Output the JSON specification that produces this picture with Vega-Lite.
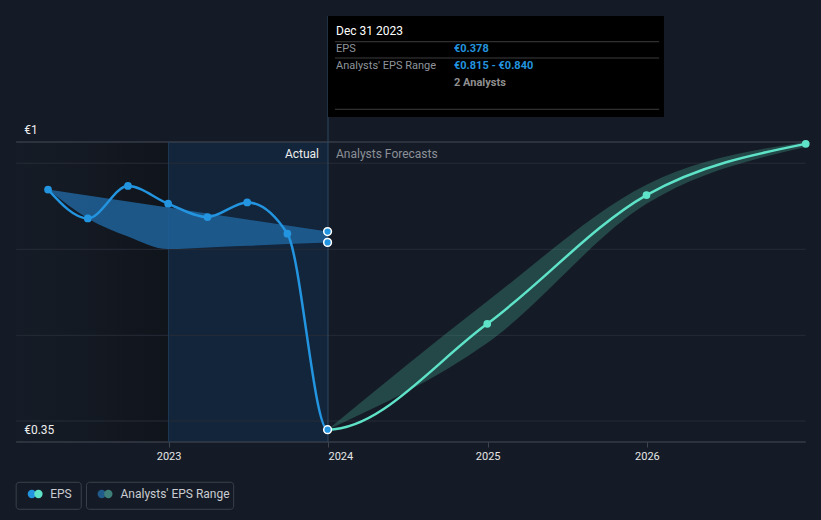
{
 "$schema": "https://vega.github.io/schema/vega-lite/v6.json",
 "padding": 0, "autosize": {"type": "pad"},
 "background": "#151b26",
 "spacing": 0, "bounds": "flush",
 "config": {"view": {"stroke": null}, "font": "Roboto", "text": {"font": "Roboto"}, "concat": {"spacing": 0}},
 "resolve": {"scale": {"x": "independent", "y": "independent"}},
 "datasets": {
  "eps": [{"date":"2022-03-31","eps":0.897,"kind":"actual"},{"date":"2022-06-30","eps":0.8345,"kind":"actual"},{"date":"2022-09-30","eps":0.9047,"kind":"actual"},{"date":"2022-12-31","eps":0.8663,"kind":"actual"},{"date":"2023-03-31","eps":0.8375,"kind":"actual"},{"date":"2023-06-30","eps":0.8691,"kind":"actual"},{"date":"2023-09-30","eps":0.8013,"kind":"actual"},{"date":"2023-12-31","eps":0.3767,"kind":"actual"},{"date":"2024-12-31","eps":0.606,"kind":"forecast"},{"date":"2025-12-31","eps":0.885,"kind":"forecast"},{"date":"2026-12-31","eps":0.996,"kind":"forecast"}],
  "pastband": [{"date":"2022-03-31","lo":0.897,"hi":0.897},{"date":"2022-06-30","lo":0.8345,"hi":0.884},{"date":"2022-09-30","lo":0.7955,"hi":0.871},{"date":"2022-12-31","lo":0.768,"hi":0.858},{"date":"2023-03-31","lo":0.7715,"hi":0.845},{"date":"2023-06-30","lo":0.775,"hi":0.832},{"date":"2023-09-30","lo":0.779,"hi":0.819},{"date":"2023-12-31","lo":0.7825,"hi":0.806}],
  "fcband": [{"date":"2023-12-31","lo":0.3767,"hi":0.3767},{"date":"2024-12-31","lo":0.5645,"hi":0.655},{"date":"2025-12-31","lo":0.866,"hi":0.9075},{"date":"2026-12-31","lo":0.989,"hi":1.0}],
  "latest": [{"date":"2023-12-31","eps":0.3767},{"date":"2023-12-31","eps":0.806},{"date":"2023-12-31","eps":0.7825}],
  "grid": [{"g":0.3955},{"g":0.5812},{"g":0.7675},{"g":0.954}],
  "frame": [{"g":0.35},{"g":1.0}]
 },
 "hconcat": [
  {
   "width": 328, "height": 520,
   "data": {"values": [{}]},
   "layer": [
    {"mark": {"type": "rect", "fill": {"gradient": "linear", "x1": 0, "x2": 1, "y1": 0, "y2": 0, "stops": [{"offset": 0, "color": "#161c27"}, {"offset": 1, "color": "#10151c"}]}},
     "encoding": {
      "x": {"datum": {"year":2022,"month":1,"date":17,"utc":true}, "type": "temporal",
            "scale": {"type": "utc", "domain": [{"year":2021,"month":12,"date":11,"utc":true},{"year":2024,"month":1,"date":1,"utc":true}]},
            "axis": {"values": [{"year":2023,"month":1,"date":1,"utc":true}],
                     "format": "%Y", "title": null, "grid": false, "domain": false, "offset": -78, "tickSize": 5, "tickColor": "#3e444e", "labelColor": "#e6e6e6", "labelFontSize": 11, "labelPadding": 3, "labelFont": "Roboto"}},
      "x2": {"datum": {"year":2023,"month":1,"date":1,"utc":true}},
      "y": {"datum": 0.35, "type": "quantitative", "scale": {"domain": [0.181, 1.3077], "nice": false, "zero": false}, "axis": null},
      "y2": {"datum": 1.0}
     }},
    {"mark": {"type": "rect", "fill": "#13253a"},
     "encoding": {
      "x": {"datum": {"year":2023,"month":1,"date":1,"utc":true}, "type": "temporal"},
      "x2": {"datum": {"year":2024,"month":1,"date":1,"utc":true}},
      "y": {"datum": 0.35, "type": "quantitative"},
      "y2": {"datum": 1.0}
     }},
    {"data": {"name": "grid"}, "mark": {"type": "rule", "color": "#262c36", "strokeWidth": 1},
     "encoding": {
      "y": {"field": "g", "type": "quantitative"},
      "x": {"datum": {"year":2022,"month":1,"date":17,"utc":true}, "type": "temporal"},
      "x2": {"datum": {"year":2024,"month":1,"date":1,"utc":true}}
     }},
    {"data": {"name": "frame"}, "mark": {"type": "rule", "color": "#474d57", "strokeWidth": 1},
     "encoding": {
      "y": {"field": "g", "type": "quantitative"},
      "x": {"datum": {"year":2022,"month":1,"date":17,"utc":true}, "type": "temporal"},
      "x2": {"datum": {"year":2024,"month":1,"date":1,"utc":true}}
     }},
    {"mark": {"type": "rule", "color": "#1d3a55", "strokeWidth": 1},
     "encoding": {
      "x": {"datum": {"year":2023,"month":1,"date":1,"utc":true}, "type": "temporal"},
      "y": {"datum": 0.35, "type": "quantitative"},
      "y2": {"datum": 1.0}
     }},
    {"data": {"name": "pastband"}, "mark": {"type": "area", "interpolate": "monotone", "color": "#1f5e93", "opacity": 0.9},
     "encoding": {
      "x": {"field": "date", "type": "temporal"},
      "y": {"field": "lo", "type": "quantitative"},
      "y2": {"field": "hi"}
     }},
    {"data": {"name": "eps"}, "mark": {"type": "line", "interpolate": "monotone", "color": "#2394df", "strokeWidth": 2.5, "clip": true},
     "encoding": {
      "x": {"field": "date", "type": "temporal"},
      "y": {"field": "eps", "type": "quantitative"}
     }},
    {"data": {"name": "eps"}, "transform": [{"filter": "datum.kind == 'actual' && datum.eps > 0.5"}],
     "mark": {"type": "point", "filled": true, "size": 60, "color": "#2394df", "opacity": 1},
     "encoding": {
      "x": {"field": "date", "type": "temporal"},
      "y": {"field": "eps", "type": "quantitative"}
     }},
    {"mark": {"type": "text", "text": "Actual", "align": "right", "baseline": "middle", "dx": -9, "dy": 12, "fontSize": 12, "color": "#eeeeee"},
     "encoding": {
      "x": {"datum": {"year":2024,"month":1,"date":1,"utc":true}, "type": "temporal"},
      "y": {"datum": 1.0, "type": "quantitative"}
     }},
    {"mark": {"type": "text", "text": "€1", "align": "left", "baseline": "middle", "dx": 8, "dy": -12, "fontSize": 12, "color": "#eeeeee"},
     "encoding": {
      "x": {"datum": {"year":2022,"month":1,"date":17,"utc":true}, "type": "temporal"},
      "y": {"datum": 1.0, "type": "quantitative"}
     }},
    {"mark": {"type": "text", "text": "€0.35", "align": "left", "baseline": "middle", "dx": 8, "dy": -12, "fontSize": 12, "color": "#eeeeee"},
     "encoding": {
      "x": {"datum": {"year":2022,"month":1,"date":17,"utc":true}, "type": "temporal"},
      "y": {"datum": 0.35, "type": "quantitative"}
     }},
    {"mark": {"type": "rect", "fill": "transparent", "stroke": "#3b404a", "strokeWidth": 1, "cornerRadius": 3},
     "encoding": {
      "x": {"datum": {"year":2022,"month":1,"date":17,"utc":true}, "type": "temporal"},
      "x2": {"datum": {"year":2022,"month":6,"date":15,"utc":true}},
      "y": {"datum": 0.2042, "type": "quantitative"},
      "y2": {"datum": 0.2627}
     }},
    {"mark": {"type": "rect", "fill": "transparent", "stroke": "#3b404a", "strokeWidth": 1, "cornerRadius": 3},
     "encoding": {
      "x": {"datum": {"year":2022,"month":6,"date":27,"utc":true}, "type": "temporal"},
      "x2": {"datum": {"year":2023,"month":5,"date":30,"utc":true}},
      "y": {"datum": 0.2042, "type": "quantitative"},
      "y2": {"datum": 0.2627}
     }},
    {"mark": {"type": "point", "filled": true, "size": 70, "color": "#2394df", "opacity": 1},
     "encoding": {
      "x": {"datum": {"year":2022,"month":2,"date":22,"utc":true}, "type": "temporal"},
      "y": {"datum": 0.2373, "type": "quantitative"}
     }},
    {"mark": {"type": "point", "filled": true, "size": 70, "color": "#5ee3c8", "opacity": 1},
     "encoding": {
      "x": {"datum": {"year":2022,"month":3,"date":9,"utc":true}, "type": "temporal"},
      "y": {"datum": 0.2373, "type": "quantitative"}
     }},
    {"mark": {"type": "point", "filled": true, "size": 70, "color": "#1f5a8a", "opacity": 1},
     "encoding": {
      "x": {"datum": {"year":2022,"month":8,"date":1,"utc":true}, "type": "temporal"},
      "y": {"datum": 0.2373, "type": "quantitative"}
     }},
    {"mark": {"type": "point", "filled": true, "size": 70, "color": "#3e7f7a", "opacity": 1},
     "encoding": {
      "x": {"datum": {"year":2022,"month":8,"date":16,"utc":true}, "type": "temporal"},
      "y": {"datum": 0.2373, "type": "quantitative"}
     }},
    {"mark": {"type": "text", "text": "EPS", "align": "left", "baseline": "middle", "dx": 34, "fontSize": 12, "color": "#c9ccd1"},
     "encoding": {
      "x": {"datum": {"year":2022,"month":1,"date":17,"utc":true}, "type": "temporal"},
      "y": {"datum": 0.2373, "type": "quantitative"}
     }},
    {"mark": {"type": "text", "text": "Analysts' EPS Range", "align": "left", "baseline": "middle", "dx": 34, "fontSize": 12, "color": "#c9ccd1"},
     "encoding": {
      "x": {"datum": {"year":2022,"month":6,"date":27,"utc":true}, "type": "temporal"},
      "y": {"datum": 0.2373, "type": "quantitative"}
     }}
   ]
  },
  {
   "width": 493, "height": 520,
   "data": {"values": [{}]},
   "layer": [
    {"data": {"name": "grid"}, "mark": {"type": "rule", "color": "#262c36", "strokeWidth": 1},
     "encoding": {
      "y": {"field": "g", "type": "quantitative", "scale": {"domain": [0.181, 1.3077], "nice": false, "zero": false}, "axis": null},
      "x": {"datum": {"year":2024,"month":1,"date":1,"utc":true}, "type": "temporal",
            "scale": {"type": "utc", "domain": [{"year":2024,"month":1,"date":1,"utc":true},{"year":2027,"month":2,"date":4,"utc":true}]},
            "axis": {"values": [{"year":2024,"month":1,"date":1,"utc":true},{"year":2025,"month":1,"date":1,"utc":true},{"year":2026,"month":1,"date":1,"utc":true}],
                     "format": "%Y", "title": null, "grid": false, "domain": false, "offset": -78, "tickSize": 5, "tickColor": "#3e444e", "labelColor": "#e6e6e6", "labelFontSize": 11, "labelPadding": 3, "labelFont": "Roboto"}},
      "x2": {"datum": {"year":2026,"month":12,"date":31,"utc":true}}
     }},
    {"data": {"name": "frame"}, "mark": {"type": "rule", "color": "#474d57", "strokeWidth": 1},
     "encoding": {
      "y": {"field": "g", "type": "quantitative"},
      "x": {"datum": {"year":2024,"month":1,"date":1,"utc":true}, "type": "temporal"},
      "x2": {"datum": {"year":2026,"month":12,"date":31,"utc":true}}
     }},
    {"mark": {"type": "rule", "color": "#2e4862", "strokeWidth": 1},
     "encoding": {
      "x": {"datum": {"year":2024,"month":1,"date":1,"utc":true}, "type": "temporal"},
      "y": {"datum": 0.35, "type": "quantitative"},
      "y2": {"datum": 1.273}
     }},
    {"data": {"name": "fcband"}, "mark": {"type": "area", "interpolate": "monotone", "color": "#5de2c6", "opacity": 0.22},
     "encoding": {
      "x": {"field": "date", "type": "temporal"},
      "y": {"field": "lo", "type": "quantitative"},
      "y2": {"field": "hi"}
     }},
    {"data": {"name": "eps"}, "mark": {"type": "line", "interpolate": "monotone", "color": "#5ee3c8", "strokeWidth": 2.5, "clip": true},
     "encoding": {
      "x": {"field": "date", "type": "temporal"},
      "y": {"field": "eps", "type": "quantitative"}
     }},
    {"data": {"name": "eps"}, "transform": [{"filter": "datum.kind == 'forecast'"}],
     "mark": {"type": "point", "filled": true, "size": 60, "color": "#5ee3c8", "opacity": 1},
     "encoding": {
      "x": {"field": "date", "type": "temporal"},
      "y": {"field": "eps", "type": "quantitative"}
     }},
    {"data": {"name": "latest"},
     "mark": {"type": "point", "filled": true, "size": 60, "fill": "#2394df", "stroke": "#ffffff", "strokeWidth": 1.5, "opacity": 1},
     "encoding": {
      "x": {"field": "date", "type": "temporal"},
      "y": {"field": "eps", "type": "quantitative"}
     }},
    {"mark": {"type": "text", "text": "Analysts Forecasts", "align": "left", "baseline": "middle", "dx": 8, "dy": 12, "fontSize": 12, "color": "#8b9098"},
     "encoding": {
      "x": {"datum": {"year":2024,"month":1,"date":1,"utc":true}, "type": "temporal"},
      "y": {"datum": 1.0, "type": "quantitative"}
     }},
    {"mark": {"type": "rect", "fill": "#000000"},
     "encoding": {
      "x": {"datum": {"year":2024,"month":1,"date":1,"utc":true}, "type": "temporal"},
      "x2": {"datum": {"year":2026,"month":2,"date":9,"utc":true}},
      "y": {"datum": 1.0542, "type": "quantitative"},
      "y2": {"datum": 1.273}
     }},
    {"data": {"values": [{"g":1.2173},{"g":1.182},{"g":1.0709}]}, "mark": {"type": "rule", "color": "#3d3d3d", "strokeWidth": 1},
     "encoding": {
      "y": {"field": "g", "type": "quantitative"},
      "x": {"datum": {"year":2024,"month":1,"date":17,"utc":true}, "type": "temporal"},
      "x2": {"datum": {"year":2026,"month":1,"date":29,"utc":true}}
     }},
    {"mark": {"type": "text", "text": "Dec 31 2023", "align": "left", "baseline": "middle", "dx": 8, "fontSize": 12, "color": "#ffffff"},
     "encoding": {
      "x": {"datum": {"year":2024,"month":1,"date":1,"utc":true}, "type": "temporal"},
      "y": {"datum": 1.2405, "type": "quantitative"}
     }},
    {"mark": {"type": "text", "text": "EPS", "align": "left", "baseline": "middle", "dx": 8, "fontSize": 11, "color": "#8f949b"},
     "encoding": {
      "x": {"datum": {"year":2024,"month":1,"date":1,"utc":true}, "type": "temporal"},
      "y": {"datum": 1.2015, "type": "quantitative"}
     }},
    {"mark": {"type": "text", "text": "€0.378", "align": "left", "baseline": "middle", "dx": 126, "fontSize": 11, "fontWeight": "bold", "color": "#2394df"},
     "encoding": {
      "x": {"datum": {"year":2024,"month":1,"date":1,"utc":true}, "type": "temporal"},
      "y": {"datum": 1.2015, "type": "quantitative"}
     }},
    {"mark": {"type": "text", "text": "Analysts' EPS Range", "align": "left", "baseline": "middle", "dx": 8, "fontSize": 11, "color": "#8f949b"},
     "encoding": {
      "x": {"datum": {"year":2024,"month":1,"date":1,"utc":true}, "type": "temporal"},
      "y": {"datum": 1.1647, "type": "quantitative"}
     }},
    {"mark": {"type": "text", "text": "€0.815 - €0.840", "align": "left", "baseline": "middle", "dx": 126, "fontSize": 11, "fontWeight": "bold", "color": "#2394df"},
     "encoding": {
      "x": {"datum": {"year":2024,"month":1,"date":1,"utc":true}, "type": "temporal"},
      "y": {"datum": 1.1647, "type": "quantitative"}
     }},
    {"mark": {"type": "text", "text": "2 Analysts", "align": "left", "baseline": "middle", "dx": 126, "fontSize": 11, "fontWeight": "bold", "color": "#8f8f8f"},
     "encoding": {
      "x": {"datum": {"year":2024,"month":1,"date":1,"utc":true}, "type": "temporal"},
      "y": {"datum": 1.1285, "type": "quantitative"}
     }}
   ]
  }
 ]
}
